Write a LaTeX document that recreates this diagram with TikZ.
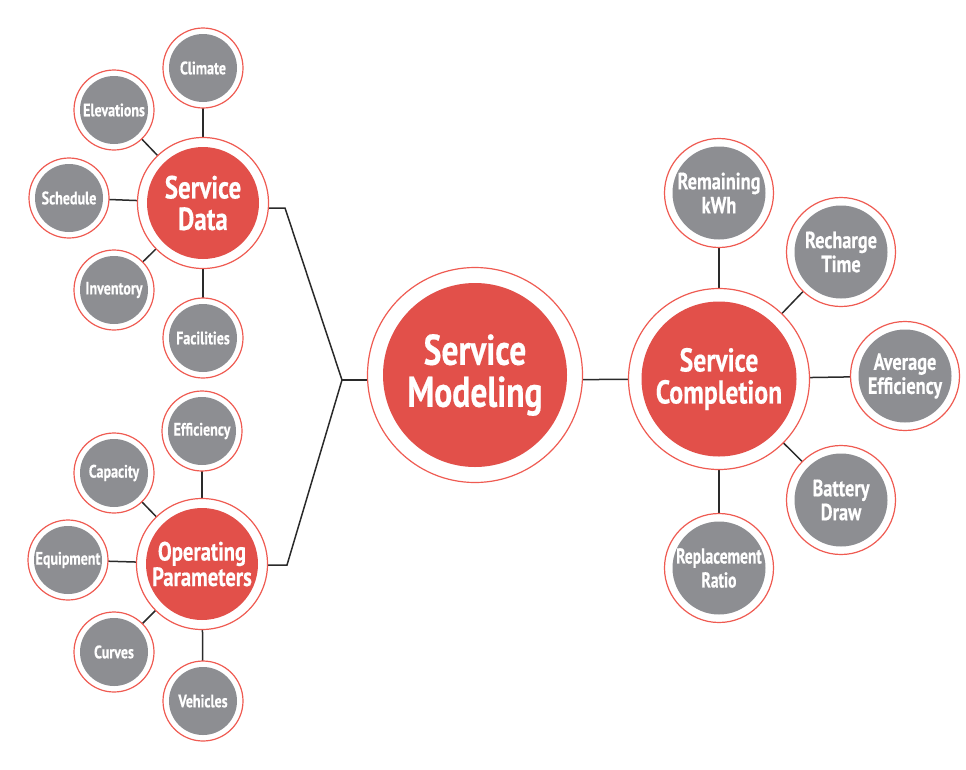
\documentclass[tikz,border=0pt]{standalone}
\usepackage{fontspec}
\newfontfamily\labfont{PT Sans}[FakeStretch=0.78, FakeBold=0.4]
\newfontfamily\narrowfont{PT Sans}[FakeStretch=0.72, FakeBold=0.4]
\usetikzlibrary{backgrounds}
\definecolor{hubred}{HTML}{E2504A}
\definecolor{ringred}{HTML}{EF5B52}
\definecolor{leafgray}{HTML}{8D8E92}
\definecolor{linecol}{HTML}{2A2A2A}
\tikzset{
  ringnode/.style={circle, draw=ringred, line width=1.2pt, fill=white, inner sep=0pt, align=center, text=white},
  leaf/.style={ringnode, minimum size=80pt, font=\labfont\bfseries\fontsize{18}{19}\selectfont,
    path picture={\fill[leafgray] (path picture bounding box.center) circle (34pt);}},
  bigleaf/.style={ringnode, minimum size=109pt, font=\labfont\bfseries\fontsize{23.5}{24}\selectfont,
    path picture={\fill[leafgray] (path picture bounding box.center) circle (46.5pt);}},
  hubsd/.style={ringnode, minimum size=131pt, font=\labfont\bfseries\fontsize{32}{31.5}\selectfont,
    path picture={\fill[hubred] (path picture bounding box.center) circle (56pt);}},
  hubop/.style={ringnode, minimum size=131pt, font=\labfont\bfseries\fontsize{26.5}{22.5}\selectfont,
    path picture={\fill[hubred] (path picture bounding box.center) circle (56pt);}},
  hubsc/.style={ringnode, minimum size=181pt, font=\labfont\bfseries\fontsize{33}{32}\selectfont,
    path picture={\fill[hubred] (path picture bounding box.center) circle (77.5pt);}},
  hubsm/.style={ringnode, minimum size=215pt, font=\labfont\bfseries\fontsize{43}{42}\selectfont,
    path picture={\fill[hubred] (path picture bounding box.center) circle (92pt);}},
  conn/.style={draw=linecol, line width=1.5pt}
}
\begin{document}
\begin{tikzpicture}[x=1pt, y=-1pt]
\useasboundingbox (0,0) rectangle (966,769);
% hubs
\node[hubsm] (sm) at (475,375) {Service\\Modeling};
\node[hubsd] (sd) at (203,203) {Service\\Data};
\node[hubop] (op) at (202,564) {Operating\\Parameters};
\node[hubsc] (sc) at (719,379) {Service\\Completion};
% service data leaves
\node[leaf] (climate) at (203,68) {Climate};
\node[leaf] (elev) at (114,110) {Elevations};
\node[leaf] (sched) at (69,198) {Schedule};
\node[leaf] (inv) at (114,290) {Inventory};
\node[leaf] (fac) at (203,338) {Facilities};
% operating parameters leaves
\node[leaf] (eff) at (202,431) {Efficiency};
\node[leaf] (cap) at (114,473) {Capacity};
\node[leaf] (equip) at (68,560) {Equipment};
\node[leaf] (curves) at (114,652) {Curves};
\node[leaf] (veh) at (203,701) {Vehicles};
% service completion leaves
\node[bigleaf] (rem) at (719,193) {Remaining\\kWh};
\node[bigleaf] (rech) at (841,252) {Recharge\\Time};
\node[bigleaf] (avg) at (905,376) {Average\\Efficiency};
\node[bigleaf] (bat) at (841,500) {Battery\\Draw};
\node[bigleaf, font=\narrowfont\bfseries\fontsize{21.5}{24}\selectfont] (repl) at (719,568) {Replacement\\Ratio};
% junction
\coordinate (j) at (342,380);
\coordinate (k1) at (285,208);
\coordinate (k2) at (287,565);
\begin{scope}[on background layer]
\draw[conn] (sd.center |- k1) -- (k1) -- (j) -- (k2) -- (op.center |- k2);
\draw[conn] (j) -- (j -| sm.center);
\draw[conn] (sm.center |- j) -- (sc.center);
\foreach \l in {climate,elev,sched,inv,fac} \draw[conn] (sd.center) -- (\l.center);
\foreach \l in {eff,cap,equip,curves,veh} \draw[conn] (op.center) -- (\l.center);
\foreach \l in {rem,rech,avg,bat,repl} \draw[conn] (sc.center) -- (\l.center);
\end{scope}
\end{tikzpicture}
\end{document}
